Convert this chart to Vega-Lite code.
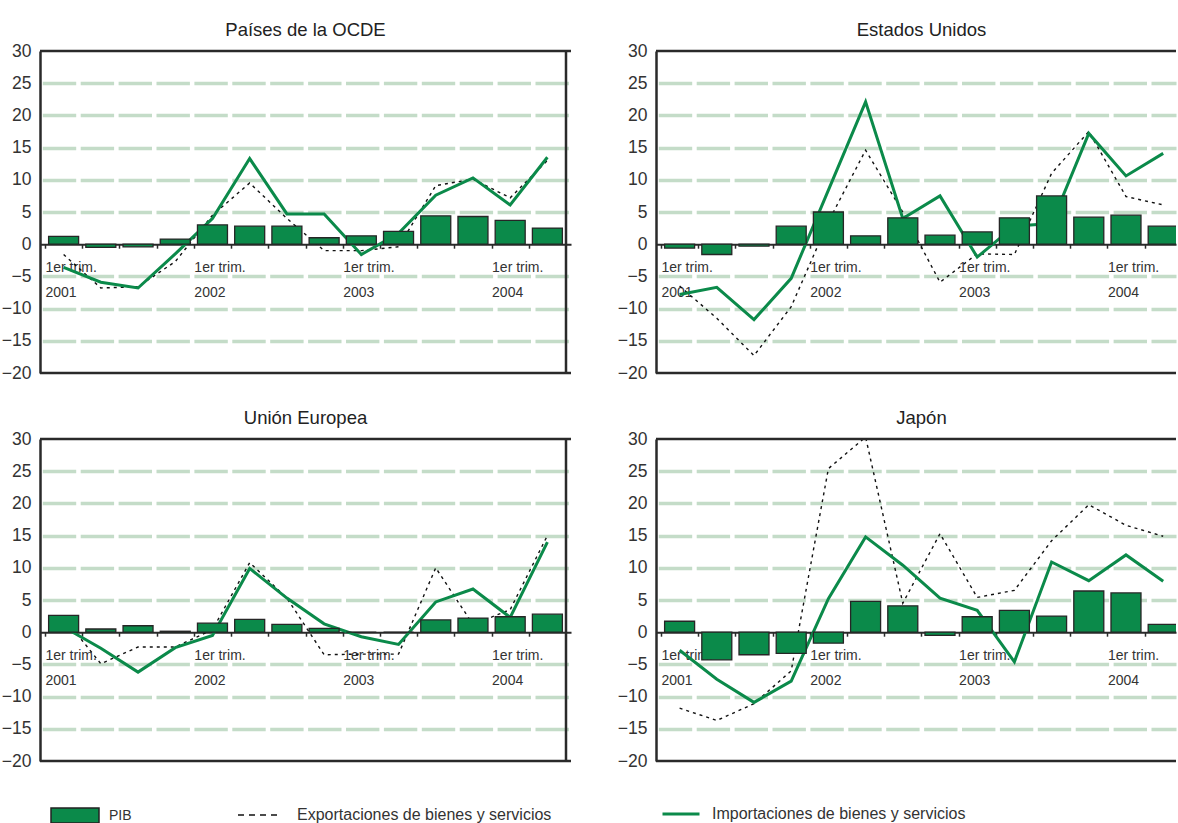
{
  "$schema": "https://vega.github.io/schema/vega-lite/v6.json",
  "padding": {"left": 1, "top": 20, "right": 0, "bottom": 2},
  "background": "white",
  "data": {"values": [
    {"panel": "OCDE", "q": 1, "pib": 1.2, "exp": -1.6, "imp": -3.6},
    {"panel": "OCDE", "q": 2, "pib": -0.5, "exp": -6.8, "imp": -5.9},
    {"panel": "OCDE", "q": 3, "pib": -0.4, "exp": -6.6, "imp": -6.8},
    {"panel": "OCDE", "q": 4, "pib": 0.8, "exp": -2.7, "imp": -1.5},
    {"panel": "OCDE", "q": 5, "pib": 3.0, "exp": 4.5, "imp": 4.0},
    {"panel": "OCDE", "q": 6, "pib": 2.8, "exp": 9.5, "imp": 13.3},
    {"panel": "OCDE", "q": 7, "pib": 2.8, "exp": 4.0, "imp": 4.7},
    {"panel": "OCDE", "q": 8, "pib": 1.0, "exp": -1.0, "imp": 4.7},
    {"panel": "OCDE", "q": 9, "pib": 1.3, "exp": -1.0, "imp": -1.6},
    {"panel": "OCDE", "q": 10, "pib": 2.0, "exp": -0.4, "imp": 1.7},
    {"panel": "OCDE", "q": 11, "pib": 4.4, "exp": 9.1, "imp": 7.6},
    {"panel": "OCDE", "q": 12, "pib": 4.3, "exp": 10.1, "imp": 10.3},
    {"panel": "OCDE", "q": 13, "pib": 3.7, "exp": 7.2, "imp": 6.1},
    {"panel": "OCDE", "q": 14, "pib": 2.5, "exp": 13.0, "imp": 13.5},
    {"panel": "EEUU", "q": 1, "pib": -0.6, "exp": -6.5, "imp": -7.8},
    {"panel": "EEUU", "q": 2, "pib": -1.6, "exp": -11.5, "imp": -6.7},
    {"panel": "EEUU", "q": 3, "pib": -0.3, "exp": -17.3, "imp": -11.7},
    {"panel": "EEUU", "q": 4, "pib": 2.8, "exp": -9.7, "imp": -5.3},
    {"panel": "EEUU", "q": 5, "pib": 5.0, "exp": 3.5, "imp": 8.4},
    {"panel": "EEUU", "q": 6, "pib": 1.3, "exp": 14.6, "imp": 22.1},
    {"panel": "EEUU", "q": 7, "pib": 4.1, "exp": 5.0, "imp": 4.0},
    {"panel": "EEUU", "q": 8, "pib": 1.4, "exp": -5.9, "imp": 7.5},
    {"panel": "EEUU", "q": 9, "pib": 1.9, "exp": -1.5, "imp": -2.0},
    {"panel": "EEUU", "q": 10, "pib": 4.1, "exp": -1.6, "imp": 2.8},
    {"panel": "EEUU", "q": 11, "pib": 7.5, "exp": 11.0, "imp": 3.2},
    {"panel": "EEUU", "q": 12, "pib": 4.2, "exp": 17.5, "imp": 17.2},
    {"panel": "EEUU", "q": 13, "pib": 4.5, "exp": 7.4, "imp": 10.6},
    {"panel": "EEUU", "q": 14, "pib": 2.8, "exp": 6.1, "imp": 14.1},
    {"panel": "UE", "q": 1, "pib": 2.6, "exp": 2.3, "imp": 0.8},
    {"panel": "UE", "q": 2, "pib": 0.5, "exp": -4.9, "imp": -2.5},
    {"panel": "UE", "q": 3, "pib": 1.0, "exp": -2.3, "imp": -6.2},
    {"panel": "UE", "q": 4, "pib": 0.15, "exp": -2.3, "imp": -2.4},
    {"panel": "UE", "q": 5, "pib": 1.4, "exp": 0.4, "imp": -0.5},
    {"panel": "UE", "q": 6, "pib": 2.0, "exp": 10.8, "imp": 9.9},
    {"panel": "UE", "q": 7, "pib": 1.2, "exp": 5.3, "imp": 5.3},
    {"panel": "UE", "q": 8, "pib": 0.6, "exp": -3.5, "imp": 1.3},
    {"panel": "UE", "q": 9, "pib": 0.0, "exp": -3.4, "imp": -0.7},
    {"panel": "UE", "q": 10, "pib": 0.0, "exp": -3.4, "imp": -1.9},
    {"panel": "UE", "q": 11, "pib": 1.9, "exp": 10.0, "imp": 4.7},
    {"panel": "UE", "q": 12, "pib": 2.2, "exp": 1.2, "imp": 6.7},
    {"panel": "UE", "q": 13, "pib": 2.4, "exp": 3.5, "imp": 2.3},
    {"panel": "UE", "q": 14, "pib": 2.8, "exp": 15.0, "imp": 14.0},
    {"panel": "JP", "q": 1, "pib": 1.7, "exp": -11.8, "imp": -2.8},
    {"panel": "JP", "q": 2, "pib": -4.3, "exp": -13.7, "imp": -7.3},
    {"panel": "JP", "q": 3, "pib": -3.5, "exp": -11.1, "imp": -10.9},
    {"panel": "JP", "q": 4, "pib": -3.3, "exp": -6.0, "imp": -7.6},
    {"panel": "JP", "q": 5, "pib": -1.7, "exp": 25.4, "imp": 5.2},
    {"panel": "JP", "q": 6, "pib": 4.8, "exp": 30.3, "imp": 14.8},
    {"panel": "JP", "q": 7, "pib": 4.1, "exp": 4.5, "imp": 10.4},
    {"panel": "JP", "q": 8, "pib": -0.5, "exp": 15.3, "imp": 5.3},
    {"panel": "JP", "q": 9, "pib": 2.4, "exp": 5.4, "imp": 3.4},
    {"panel": "JP", "q": 10, "pib": 3.4, "exp": 6.5, "imp": -4.6},
    {"panel": "JP", "q": 11, "pib": 2.5, "exp": 14.2, "imp": 10.9},
    {"panel": "JP", "q": 12, "pib": 6.4, "exp": 19.8, "imp": 8.0},
    {"panel": "JP", "q": 13, "pib": 6.1, "exp": 16.6, "imp": 12.0},
    {"panel": "JP", "q": 14, "pib": 1.2, "exp": 14.9, "imp": 7.9}
  ]},
  "columns": 2,
  "bounds": "flush",
  "spacing": {"row": 66, "column": 85},
  "resolve": {
    "scale": {"fill": "shared", "stroke": "shared", "strokeDash": "shared"},
    "legend": {"fill": "shared", "stroke": "shared", "strokeDash": "shared"}
  },
  "concat": [
    {
      "title": {"text": "Países de la OCDE"},
      "width": 531, "height": 322,
      "transform": [{"filter": "datum.panel == 'OCDE'"}],
      "layer": [
        {"mark": {"type": "line", "clip": true, "stroke": "#111111", "strokeWidth": 1.4, "strokeDash": [3, 4]},
         "encoding": {
           "x": {"field": "q", "type": "quantitative", "scale": {"domain": [0.5, 14.5], "nice": false, "zero": false}, "axis": {"values": [0.5,1.5,2.5,3.5,4.5,5.5,6.5,7.5,8.5,9.5,10.5,11.5,12.5,13.5]}},
           "y": {"field": "exp", "type": "quantitative", "scale": {"domain": [-20, 30], "nice": false, "zero": false}, "axis": {"values": [-20,-15,-10,-5,0,5,10,15,20,25,30]}}
         }},
        {"data": {"values": [{}]},
         "mark": {"type": "line", "stroke": "#111111", "strokeWidth": 1.5},
         "encoding": {
           "strokeDash": {"datum": "Exportaciones de  bienes y servicios", "type": "nominal", "scale": {"range": [[6, 5]]}, "legend": {"orient": "none", "legendX": 197, "legendY": 741, "title": null, "symbolType": "stroke", "symbolSize": 1936, "symbolStrokeColor": "#111111", "symbolStrokeWidth": 1.5, "labelOffset": 14}}
         }},
        {"mark": {"type": "line", "clip": true, "strokeWidth": 3},
         "encoding": {
           "x": {"field": "q", "type": "quantitative", "scale": {"domain": [0.5, 14.5], "nice": false, "zero": false}, "axis": {"values": [0.5,1.5,2.5,3.5,4.5,5.5,6.5,7.5,8.5,9.5,10.5,11.5,12.5,13.5]}},
           "y": {"field": "imp", "type": "quantitative", "scale": {"domain": [-20, 30], "nice": false, "zero": false}, "axis": {"values": [-20,-15,-10,-5,0,5,10,15,20,25,30]}},
           "stroke": {"datum": "Importaciones de bienes y servicios", "type": "nominal", "scale": {"range": ["#0b8a4a"]}, "legend": {"orient": "none", "legendX": 621, "legendY": 743, "title": null, "symbolType": "stroke", "symbolSize": 1369, "symbolStrokeWidth": 3, "labelOffset": 11}}
         }},
        {"mark": {"type": "bar", "width": 30, "clip": true, "stroke": "#262626", "strokeWidth": 1.3},
         "encoding": {
           "x": {"field": "q", "type": "quantitative", "scale": {"domain": [0.5, 14.5], "nice": false, "zero": false}, "axis": {"values": [0.5,1.5,2.5,3.5,4.5,5.5,6.5,7.5,8.5,9.5,10.5,11.5,12.5,13.5]}},
           "y": {"field": "pib", "type": "quantitative", "scale": {"domain": [-20, 30], "nice": false, "zero": false}, "axis": {"values": [-20,-15,-10,-5,0,5,10,15,20,25,30]}},
           "fill": {"datum": "PIB", "type": "nominal", "scale": {"range": ["#0b8a4a"]}, "legend": {"orient": "none", "legendX": 10, "legendY": 739.5, "title": null, "symbolType": "M-1,-0.3125H1V0.3125H-1Z", "symbolSize": 2304, "symbolStrokeColor": "#222222", "symbolStrokeWidth": 1.5, "labelOffset": 9, "labelFontSize": 14}}
         }},
        {"data": {"values": [{}]}, "mark": {"type": "rule", "stroke": "#2a2a2a", "strokeWidth": 2.5},
         "encoding": {"y": {"datum": 30, "type": "quantitative", "scale": {"domain": [-20, 30], "nice": false, "zero": false}, "axis": {"values": [-20,-15,-10,-5,0,5,10,15,20,25,30]}}}},
        {"data": {"values": [{}]}, "mark": {"type": "rule", "stroke": "#2a2a2a", "strokeWidth": 2.5},
         "encoding": {"y": {"datum": -20, "type": "quantitative", "scale": {"domain": [-20, 30], "nice": false, "zero": false}, "axis": {"values": [-20,-15,-10,-5,0,5,10,15,20,25,30]}}}},
        {"data": {"values": [{}]}, "mark": {"type": "rule", "stroke": "#2a2a2a", "strokeWidth": 2.5},
         "encoding": {"x": {"datum": 14.5, "type": "quantitative", "scale": {"domain": [0.5, 14.5], "nice": false, "zero": false}, "axis": {"values": [0.5,1.5,2.5,3.5,4.5,5.5,6.5,7.5,8.5,9.5,10.5,11.5,12.5,13.5]}}}}
      ]
    },
    {
      "title": {"text": "Estados Unidos", "dx": 5.5},
      "width": 520, "height": 322,
      "transform": [{"filter": "datum.panel == 'EEUU'"}],
      "layer": [
        {"mark": {"type": "line", "clip": true, "stroke": "#111111", "strokeWidth": 1.4, "strokeDash": [3, 4]},
         "encoding": {
           "x": {"field": "q", "type": "quantitative", "scale": {"domain": [0.5, 14.21], "nice": false, "zero": false}, "axis": {"values": [0.5,1.5,2.5,3.5,4.5,5.5,6.5,7.5,8.5,9.5,10.5,11.5,12.5,13.5]}},
           "y": {"field": "exp", "type": "quantitative", "scale": {"domain": [-20, 30], "nice": false, "zero": false}, "axis": {"values": [-20,-15,-10,-5,0,5,10,15,20,25,30]}}
         }},
        {"mark": {"type": "line", "clip": true, "strokeWidth": 3},
         "encoding": {
           "x": {"field": "q", "type": "quantitative", "scale": {"domain": [0.5, 14.21], "nice": false, "zero": false}, "axis": {"values": [0.5,1.5,2.5,3.5,4.5,5.5,6.5,7.5,8.5,9.5,10.5,11.5,12.5,13.5]}},
           "y": {"field": "imp", "type": "quantitative", "scale": {"domain": [-20, 30], "nice": false, "zero": false}, "axis": {"values": [-20,-15,-10,-5,0,5,10,15,20,25,30]}},
           "stroke": {"datum": "Importaciones de bienes y servicios", "type": "nominal", "scale": {"range": ["#0b8a4a"]}, "legend": {"orient": "none", "legendX": 621, "legendY": 743, "title": null, "symbolType": "stroke", "symbolSize": 1369, "symbolStrokeWidth": 3, "labelOffset": 11}}
         }},
        {"mark": {"type": "bar", "width": 30, "clip": true, "stroke": "#262626", "strokeWidth": 1.3},
         "encoding": {
           "x": {"field": "q", "type": "quantitative", "scale": {"domain": [0.5, 14.21], "nice": false, "zero": false}, "axis": {"values": [0.5,1.5,2.5,3.5,4.5,5.5,6.5,7.5,8.5,9.5,10.5,11.5,12.5,13.5]}},
           "y": {"field": "pib", "type": "quantitative", "scale": {"domain": [-20, 30], "nice": false, "zero": false}, "axis": {"values": [-20,-15,-10,-5,0,5,10,15,20,25,30]}},
           "fill": {"datum": "PIB", "type": "nominal", "scale": {"range": ["#0b8a4a"]}, "legend": {"orient": "none", "legendX": 10, "legendY": 739.5, "title": null, "symbolType": "M-1,-0.3125H1V0.3125H-1Z", "symbolSize": 2304, "symbolStrokeColor": "#222222", "symbolStrokeWidth": 1.5, "labelOffset": 9, "labelFontSize": 14}}
         }},
        {"data": {"values": [{}]}, "mark": {"type": "rule", "stroke": "#2a2a2a", "strokeWidth": 2.5},
         "encoding": {"y": {"datum": 30, "type": "quantitative", "scale": {"domain": [-20, 30], "nice": false, "zero": false}, "axis": {"values": [-20,-15,-10,-5,0,5,10,15,20,25,30]}}}},
        {"data": {"values": [{}]}, "mark": {"type": "rule", "stroke": "#2a2a2a", "strokeWidth": 2.5},
         "encoding": {"y": {"datum": -20, "type": "quantitative", "scale": {"domain": [-20, 30], "nice": false, "zero": false}, "axis": {"values": [-20,-15,-10,-5,0,5,10,15,20,25,30]}}}}
      ]
    },
    {
      "title": {"text": "Unión Europea"},
      "width": 531, "height": 322,
      "transform": [{"filter": "datum.panel == 'UE'"}],
      "layer": [
        {"mark": {"type": "line", "clip": true, "stroke": "#111111", "strokeWidth": 1.4, "strokeDash": [3, 4]},
         "encoding": {
           "x": {"field": "q", "type": "quantitative", "scale": {"domain": [0.5, 14.5], "nice": false, "zero": false}, "axis": {"values": [0.5,1.5,2.5,3.5,4.5,5.5,6.5,7.5,8.5,9.5,10.5,11.5,12.5,13.5]}},
           "y": {"field": "exp", "type": "quantitative", "scale": {"domain": [-20, 30], "nice": false, "zero": false}, "axis": {"values": [-20,-15,-10,-5,0,5,10,15,20,25,30]}}
         }},
        {"mark": {"type": "line", "clip": true, "strokeWidth": 3},
         "encoding": {
           "x": {"field": "q", "type": "quantitative", "scale": {"domain": [0.5, 14.5], "nice": false, "zero": false}, "axis": {"values": [0.5,1.5,2.5,3.5,4.5,5.5,6.5,7.5,8.5,9.5,10.5,11.5,12.5,13.5]}},
           "y": {"field": "imp", "type": "quantitative", "scale": {"domain": [-20, 30], "nice": false, "zero": false}, "axis": {"values": [-20,-15,-10,-5,0,5,10,15,20,25,30]}},
           "stroke": {"datum": "Importaciones de bienes y servicios", "type": "nominal", "scale": {"range": ["#0b8a4a"]}, "legend": {"orient": "none", "legendX": 621, "legendY": 743, "title": null, "symbolType": "stroke", "symbolSize": 1369, "symbolStrokeWidth": 3, "labelOffset": 11}}
         }},
        {"mark": {"type": "bar", "width": 30, "clip": true, "stroke": "#262626", "strokeWidth": 1.3},
         "encoding": {
           "x": {"field": "q", "type": "quantitative", "scale": {"domain": [0.5, 14.5], "nice": false, "zero": false}, "axis": {"values": [0.5,1.5,2.5,3.5,4.5,5.5,6.5,7.5,8.5,9.5,10.5,11.5,12.5,13.5]}},
           "y": {"field": "pib", "type": "quantitative", "scale": {"domain": [-20, 30], "nice": false, "zero": false}, "axis": {"values": [-20,-15,-10,-5,0,5,10,15,20,25,30]}},
           "fill": {"datum": "PIB", "type": "nominal", "scale": {"range": ["#0b8a4a"]}, "legend": {"orient": "none", "legendX": 10, "legendY": 739.5, "title": null, "symbolType": "M-1,-0.3125H1V0.3125H-1Z", "symbolSize": 2304, "symbolStrokeColor": "#222222", "symbolStrokeWidth": 1.5, "labelOffset": 9, "labelFontSize": 14}}
         }},
        {"data": {"values": [{}]}, "mark": {"type": "rule", "stroke": "#2a2a2a", "strokeWidth": 2.5},
         "encoding": {"y": {"datum": 30, "type": "quantitative", "scale": {"domain": [-20, 30], "nice": false, "zero": false}, "axis": {"values": [-20,-15,-10,-5,0,5,10,15,20,25,30]}}}},
        {"data": {"values": [{}]}, "mark": {"type": "rule", "stroke": "#2a2a2a", "strokeWidth": 2.5},
         "encoding": {"y": {"datum": -20, "type": "quantitative", "scale": {"domain": [-20, 30], "nice": false, "zero": false}, "axis": {"values": [-20,-15,-10,-5,0,5,10,15,20,25,30]}}}},
        {"data": {"values": [{}]}, "mark": {"type": "rule", "stroke": "#2a2a2a", "strokeWidth": 2.5},
         "encoding": {"x": {"datum": 14.5, "type": "quantitative", "scale": {"domain": [0.5, 14.5], "nice": false, "zero": false}, "axis": {"values": [0.5,1.5,2.5,3.5,4.5,5.5,6.5,7.5,8.5,9.5,10.5,11.5,12.5,13.5]}}}}
      ]
    },
    {
      "title": {"text": "Japón", "dx": 5.5},
      "width": 520, "height": 322,
      "transform": [{"filter": "datum.panel == 'JP'"}],
      "layer": [
        {"mark": {"type": "line", "clip": true, "stroke": "#111111", "strokeWidth": 1.4, "strokeDash": [3, 4]},
         "encoding": {
           "x": {"field": "q", "type": "quantitative", "scale": {"domain": [0.5, 14.21], "nice": false, "zero": false}, "axis": {"values": [0.5,1.5,2.5,3.5,4.5,5.5,6.5,7.5,8.5,9.5,10.5,11.5,12.5,13.5]}},
           "y": {"field": "exp", "type": "quantitative", "scale": {"domain": [-20, 30], "nice": false, "zero": false}, "axis": {"values": [-20,-15,-10,-5,0,5,10,15,20,25,30]}}
         }},
        {"mark": {"type": "line", "clip": true, "strokeWidth": 3},
         "encoding": {
           "x": {"field": "q", "type": "quantitative", "scale": {"domain": [0.5, 14.21], "nice": false, "zero": false}, "axis": {"values": [0.5,1.5,2.5,3.5,4.5,5.5,6.5,7.5,8.5,9.5,10.5,11.5,12.5,13.5]}},
           "y": {"field": "imp", "type": "quantitative", "scale": {"domain": [-20, 30], "nice": false, "zero": false}, "axis": {"values": [-20,-15,-10,-5,0,5,10,15,20,25,30]}},
           "stroke": {"datum": "Importaciones de bienes y servicios", "type": "nominal", "scale": {"range": ["#0b8a4a"]}, "legend": {"orient": "none", "legendX": 621, "legendY": 743, "title": null, "symbolType": "stroke", "symbolSize": 1369, "symbolStrokeWidth": 3, "labelOffset": 11}}
         }},
        {"mark": {"type": "bar", "width": 30, "clip": true, "stroke": "#262626", "strokeWidth": 1.3},
         "encoding": {
           "x": {"field": "q", "type": "quantitative", "scale": {"domain": [0.5, 14.21], "nice": false, "zero": false}, "axis": {"values": [0.5,1.5,2.5,3.5,4.5,5.5,6.5,7.5,8.5,9.5,10.5,11.5,12.5,13.5]}},
           "y": {"field": "pib", "type": "quantitative", "scale": {"domain": [-20, 30], "nice": false, "zero": false}, "axis": {"values": [-20,-15,-10,-5,0,5,10,15,20,25,30]}},
           "fill": {"datum": "PIB", "type": "nominal", "scale": {"range": ["#0b8a4a"]}, "legend": {"orient": "none", "legendX": 10, "legendY": 739.5, "title": null, "symbolType": "M-1,-0.3125H1V0.3125H-1Z", "symbolSize": 2304, "symbolStrokeColor": "#222222", "symbolStrokeWidth": 1.5, "labelOffset": 9, "labelFontSize": 14}}
         }},
        {"data": {"values": [{}]}, "mark": {"type": "rule", "stroke": "#2a2a2a", "strokeWidth": 2.5},
         "encoding": {"y": {"datum": 30, "type": "quantitative", "scale": {"domain": [-20, 30], "nice": false, "zero": false}, "axis": {"values": [-20,-15,-10,-5,0,5,10,15,20,25,30]}}}},
        {"data": {"values": [{}]}, "mark": {"type": "rule", "stroke": "#2a2a2a", "strokeWidth": 2.5},
         "encoding": {"y": {"datum": -20, "type": "quantitative", "scale": {"domain": [-20, 30], "nice": false, "zero": false}, "axis": {"values": [-20,-15,-10,-5,0,5,10,15,20,25,30]}}}}
      ]
    }
  ],
  "config": {
    "font": "Liberation Sans",
    "view": {"stroke": null},
    "title": {"font": "Liberation Sans", "fontSize": 18.5, "fontWeight": "normal", "color": "#222222", "anchor": "middle", "frame": "group", "baseline": "alphabetic", "offset": 3},
    "legend": {"padding": 0, "labelFont": "Liberation Sans", "labelFontSize": 16, "labelColor": "#333333", "labelLimit": 400},
    "axisY": {
      "title": null, "grid": true,
      "gridColor": {"condition": {"test": "datum.value == 0 || datum.value == 30 || datum.value == -20", "value": "transparent"}, "value": "#c4dcc8"},
      "gridWidth": 3.5, "gridDash": [33.4, 4.5], "gridDashOffset": 35.6,
      "ticks": false, "domain": true, "domainColor": "#2a2a2a", "domainWidth": 2.5,
      "labelFont": "Liberation Sans", "labelFontSize": 17.5, "labelColor": "#333333", "labelPadding": 9
    },
    "axisX": {
      "title": null, "grid": false, "offset": -128.8,
      "domainColor": "#2a2a2a", "domainWidth": 2, "tickColor": "#2a2a2a", "tickWidth": 1.5, "tickSize": 4,
      "labelExpr": "datum.value == 0.5 ? ['1er trim.', '2001'] : datum.value == 4.5 ? ['1er trim.', '2002'] : datum.value == 8.5 ? ['1er trim.', '2003'] : datum.value == 12.5 ? ['1er trim.', '2004'] : ''",
      "labelAlign": "left", "labelBaseline": "top", "labelFont": "Liberation Sans", "labelFontSize": 14, "labelColor": "#333333",
      "labelLineHeight": 25, "labelPadding": 12, "labelFlush": false, "labelOverlap": false, "labelBound": false
    }
  }
}
